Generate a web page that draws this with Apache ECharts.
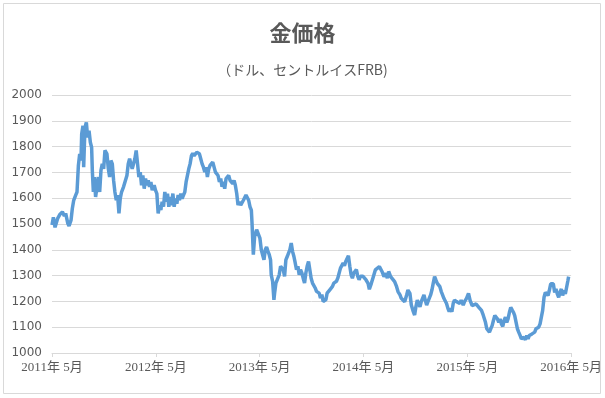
<!DOCTYPE html>
<html>
<head>
<meta charset="utf-8">
<script src="https://cdn.jsdelivr.net/npm/echarts@6/dist/echarts.min.js"></script>
<style>
  html, body { margin: 0; padding: 0; background: #fff; }
  #main { width: 605px; height: 398px; }
</style>
</head>
<body>
<div id="main"></div>
<script>
// x = months since 2011年5月, y = USD per troy ounce
var may2011 = [[0,1496],[0.16,1526],[0.35,1487],[0.66,1522],[0.93,1538],[1.2,1547],[1.43,1531],[1.58,1541],[1.82,1503],[1.97,1492],[2.2,1515],[2.35,1560],[2.51,1592],[2.74,1612],[2.89,1624],[3.05,1727],[3.2,1772],[3.35,1746],[3.43,1849],[3.58,1881],[3.66,1720],[3.81,1874],[3.97,1894],[4.12,1836],[4.28,1862],[4.43,1817],[4.58,1797],[4.66,1708],[4.78,1624],[4.89,1682],[5.04,1605],[5.2,1644],[5.35,1682],[5.51,1624],[5.66,1708],[5.81,1733],[5.97,1714],[6.12,1785],[6.35,1772],[6.51,1714],[6.66,1682],[6.81,1746],[6.97,1733],[7.12,1669],[7.27,1624],[7.43,1592],[7.58,1612],[7.74,1541],[7.89,1599],[8.04,1624],[8.27,1644],[8.5,1650],[8.66,1688],[8.81,1733],[8.97,1753],[9.12,1733],[9.27,1714],[9.43,1720],[9.58,1753],[9.73,1785],[9.89,1733],[10.04,1682],[10.2,1701],[10.35,1650],[10.5,1688],[10.66,1637],[10.81,1676],[10.97,1650],[11.12,1669],[11.27,1644],[11.43,1663],[11.58,1631],[11.81,1650],[11.96,1631],[12.12,1618],[12.27,1541]];
var may2012 = [[12.43,1573],[12.58,1554],[12.73,1586],[12.89,1567],[13.04,1624],[13.2,1586],[13.35,1618],[13.5,1567],[13.66,1605],[13.81,1573],[13.97,1618],[14.12,1567],[14.27,1599],[14.43,1579],[14.58,1612],[14.73,1592],[14.89,1618],[15.04,1599],[15.2,1612],[15.35,1624],[15.5,1663],[15.66,1669],[15.81,1714],[15.96,1733],[16.12,1765],[16.27,1774],[16.43,1765],[16.58,1772],[16.73,1778],[16.89,1785],[17.04,1772],[17.19,1753],[17.35,1733],[17.5,1720],[17.66,1701],[17.81,1720],[17.96,1682],[18.12,1714],[18.27,1727],[18.42,1720],[18.58,1740],[18.73,1733],[18.89,1701],[19.04,1708],[19.19,1688],[19.35,1663],[19.5,1676],[19.65,1644],[19.81,1663],[19.96,1637],[20.12,1676],[20.27,1669],[20.42,1688],[20.58,1669],[20.73,1676],[20.89,1656],[21.04,1669],[21.19,1650],[21.35,1618],[21.5,1573],[21.65,1586],[21.81,1573],[21.96,1579],[22.12,1592],[22.27,1599],[22.42,1612],[22.58,1605],[22.73,1592],[22.88,1567],[23.04,1554],[23.12,1503],[23.27,1381]];
var may2013 = [[23.42,1452],[23.65,1478],[23.88,1471],[24.03,1445],[24.19,1400],[24.34,1381],[24.5,1361],[24.65,1400],[24.8,1411],[24.96,1394],[25.11,1381],[25.26,1361],[25.34,1303],[25.5,1278],[25.65,1206],[25.73,1232],[25.88,1271],[26.11,1278],[26.26,1303],[26.42,1336],[26.57,1329],[26.73,1323],[26.88,1297],[27.03,1361],[27.19,1374],[27.34,1387],[27.49,1400],[27.65,1426],[27.8,1394],[27.96,1374],[28.11,1349],[28.26,1323],[28.42,1336],[28.57,1303],[28.72,1323],[28.88,1310],[29.03,1290],[29.19,1271],[29.34,1310],[29.49,1336],[29.65,1355],[29.8,1323],[29.95,1290],[30.11,1271],[30.26,1265],[30.42,1252],[30.57,1239],[30.72,1245],[30.88,1232],[31.03,1213],[31.19,1226],[31.34,1200],[31.49,1194],[31.65,1206],[31.8,1232],[31.95,1239],[32.11,1245],[32.26,1252],[32.42,1258],[32.57,1271],[32.72,1265],[32.88,1278],[33.03,1290],[33.19,1310],[33.34,1329],[33.49,1336],[33.65,1349],[33.8,1338],[33.95,1355],[34.11,1361],[34.26,1377],[34.42,1336],[34.57,1303],[34.72,1290],[34.88,1310],[35.03,1316],[35.18,1323],[35.34,1297],[35.49,1284],[35.65,1297],[35.8,1303],[35.95,1297]];
var may2014 = [[36.07,1296],[36.3,1283],[36.53,1270],[36.68,1247],[36.91,1270],[37.14,1296],[37.37,1322],[37.6,1316],[37.84,1335],[37.99,1342],[38.14,1316],[38.37,1296],[38.6,1309],[38.76,1290],[38.91,1316],[39.14,1296],[39.37,1290],[39.6,1277],[39.83,1257],[39.99,1238],[40.22,1225],[40.37,1212],[40.6,1218],[40.76,1199],[40.99,1225],[41.14,1244],[41.37,1231],[41.53,1186],[41.76,1160],[41.91,1147],[42.06,1179],[42.22,1205],[42.37,1192],[42.53,1179],[42.68,1199],[42.83,1192],[42.99,1225],[43.14,1205],[43.3,1186],[43.45,1199],[43.6,1205],[43.76,1225],[43.91,1244],[44.06,1270],[44.22,1296],[44.37,1283],[44.53,1270],[44.68,1277],[44.83,1257],[44.99,1238],[45.14,1225],[45.29,1212],[45.45,1205],[45.6,1192],[45.76,1173],[45.91,1160],[46.06,1173],[46.22,1160],[46.37,1192],[46.52,1205],[46.76,1199],[46.91,1205],[47.14,1192],[47.29,1205],[47.53,1186],[47.68,1199],[47.91,1212],[48.14,1231]];
var may2015 = [[48.33,1203],[48.56,1184],[48.79,1177],[49.02,1190],[49.18,1190],[49.33,1177],[49.48,1171],[49.64,1165],[49.79,1152],[49.95,1145],[50.1,1119],[50.25,1094],[50.41,1087],[50.56,1081],[50.71,1094],[50.87,1106],[51.02,1126],[51.18,1145],[51.33,1152],[51.48,1132],[51.64,1119],[51.79,1132],[51.94,1113],[52.1,1103],[52.25,1126],[52.41,1139],[52.56,1119],[52.71,1132],[52.87,1158],[53.02,1177],[53.18,1167],[53.33,1158],[53.48,1145],[53.64,1119],[53.79,1094],[53.94,1081],[54.1,1068],[54.25,1055],[54.41,1048],[54.56,1061],[54.71,1051],[54.87,1068],[55.02,1055],[55.17,1068],[55.33,1061],[55.48,1074],[55.64,1068],[55.79,1081],[55.94,1094],[56.1,1087],[56.25,1100],[56.41,1113],[56.56,1119],[56.71,1165],[56.87,1216],[57.02,1235],[57.17,1229],[57.33,1223],[57.48,1242],[57.64,1268],[57.79,1261],[57.94,1268],[58.1,1235],[58.25,1248],[58.4,1229],[58.56,1216],[58.71,1235],[58.87,1248],[59.02,1223],[59.17,1242],[59.33,1229],[59.48,1255],[59.63,1281],[59.71,1296]];

var xLabels = ['2011年 5月', '2012年 5月', '2013年 5月', '2014年 5月', '2015年 5月', '2016年 5月'];

var dom = document.getElementById('main');
var myChart = echarts.init(dom);
var grey = '#595959';
var option = {
    animation: false,
    title: {
        text: '金価格',
        subtext: '（ドル、セントルイスFRB)',
        left: 'center',
        top: 17,
        itemGap: 19,
        textStyle: {
            fontFamily: 'Noto Sans CJK JP',
            fontSize: 22,
            fontWeight: 'bold',
            color: grey
        },
        subtextStyle: {
            fontFamily: 'Noto Sans CJK JP',
            fontSize: 14,
            color: grey
        }
    },
    grid: {
        left: 52,
        right: 33,
        top: 95,
        bottom: 45
    },
    xAxis: {
        type: 'value',
        min: 0,
        max: 60,
        interval: 12,
        axisLine: { lineStyle: { color: '#d9d9d9' } },
        axisTick: { show: true, length: 4, lineStyle: { color: '#d9d9d9' } },
        splitLine: { show: false },
        axisLabel: {
            margin: 8,
            color: grey,
            fontFamily: 'Liberation Serif, Noto Sans CJK JP',
            fontSize: 13,
            formatter: function(v) {
                return xLabels[Math.round(v / 12)];
            }
        }
    },
    yAxis: {
        type: 'value',
        min: 1000,
        max: 2000,
        interval: 100,
        axisLine: { show: false },
        axisTick: { show: false },
        splitLine: { lineStyle: { color: '#d9d9d9' } },
        axisLabel: {
            margin: 10,
            color: grey,
            fontFamily: 'DejaVu Sans',
            fontSize: 12,
            formatter: function(v) {
                return String(v);
            }
        }
    },
    graphic: [{
        type: 'rect',
        shape: { x: 3.5, y: 3.5, width: 597, height: 390 },
        style: { fill: 'none', stroke: '#d9d9d9', lineWidth: 1 },
        silent: true
    }],
    series: [{
        type: 'line',
        showSymbol: false,
        data: may2011.concat(may2012, may2013, may2014, may2015),
        lineStyle: { color: '#5b9bd5', width: 3.5 },
        itemStyle: { color: '#5b9bd5' }
    }]
};
myChart.setOption(option);
window.onresize = function() {
    myChart.resize();
};
</script>
</body>
</html>
